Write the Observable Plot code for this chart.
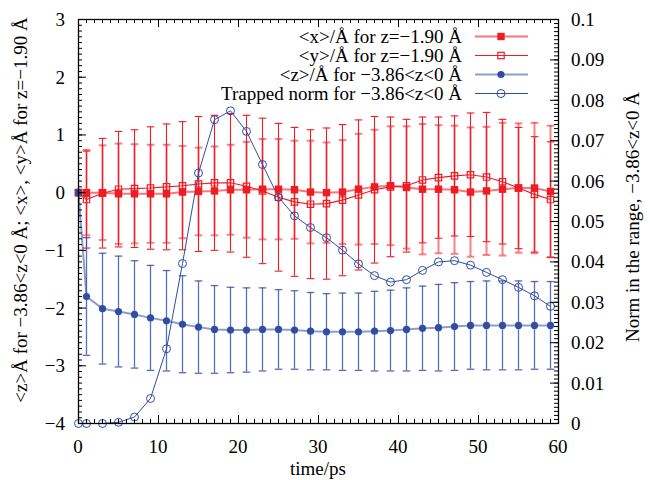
<!DOCTYPE html>
<html><head><meta charset="utf-8">
<script src="https://cdn.jsdelivr.net/npm/d3@7"></script>
<script src="https://cdn.jsdelivr.net/npm/@observablehq/plot@0.6"></script>
<style>
body{margin:0;background:#fff;}
#wrap{position:relative;width:650px;height:480px;font-family:'Liberation Serif','Times New Roman',serif;}
#legend{position:absolute;left:0;top:27px;width:528px;}
.row{display:flex;justify-content:flex-end;align-items:center;height:19px;font-size:19px;color:#000;white-space:pre;}
.row svg{display:block;}
.lab{position:absolute;white-space:pre;line-height:1;font-size:19px;color:#000;font-family:'Liberation Serif','Times New Roman',serif;}
</style></head><body><div id="wrap"><div id="legend"></div></div>
<script>
// ---- data ----
const time  = [0,1,3,5,7,9,11,13,15,17,19,21,23,25,27,29,31,33,35,37,39,41,43,45,47,49,51,53,55,57,59];
const xMean = [0,0,0,-0.02,-0.02,-0.02,-0.02,0.01,0.02,0.03,0.05,0.05,0.06,0.06,0.05,0.01,0,0.01,0.06,0.10,0.12,0.09,0.06,0.06,0.05,0.01,0.03,0.06,0.08,0.08,0.02];
const xErr  = [0,0.74,0.82,0.87,0.86,0.85,0.85,0.80,0.76,0.77,0.78,0.83,0.87,0.87,0.85,0.89,0.87,0.90,0.96,0.99,1.03,1.06,1.13,1.11,1.11,1.12,1.11,1.15,1.12,1.13,1.14];
const yMean = [0,-0.12,-0.01,0.06,0.07,0.08,0.10,0.12,0.15,0.17,0.17,0.11,0.03,-0.08,-0.16,-0.20,-0.19,-0.13,-0.04,0.05,0.10,0.12,0.22,0.26,0.29,0.31,0.27,0.19,0.08,-0.03,-0.12];
const yErr  = [0,0.84,0.95,1.00,1.02,1.06,1.09,1.11,1.17,1.17,1.20,1.23,1.26,1.28,1.29,1.29,1.31,1.31,1.30,1.27,1.21,1.15,1.09,1.05,1.04,1.07,1.12,1.08,1.05,1.00,1.00];
const zMean = [0,-1.80,-2.01,-2.06,-2.11,-2.17,-2.22,-2.28,-2.33,-2.37,-2.38,-2.38,-2.37,-2.37,-2.38,-2.40,-2.41,-2.41,-2.41,-2.40,-2.39,-2.37,-2.35,-2.34,-2.32,-2.30,-2.30,-2.30,-2.30,-2.30,-2.30];
const zErr  = [0,1.02,0.96,0.96,0.93,0.91,0.87,0.84,0.80,0.76,0.74,0.73,0.72,0.69,0.68,0.67,0.66,0.67,0.67,0.69,0.70,0.72,0.73,0.75,0.76,0.76,0.77,0.77,0.77,0.76,0.76];
const norm  = [0,0,0,0.0003,0.0016,0.0062,0.0185,0.0396,0.0620,0.0752,0.0774,0.0723,0.0641,0.0560,0.0514,0.0485,0.0460,0.0429,0.0395,0.0366,0.0350,0.0356,0.0379,0.0400,0.0403,0.0392,0.0374,0.0356,0.0337,0.0316,0.0290];

const xTicks = [0,10,20,30,40,50,60];
const yTicks = [-4,-3,-2,-1,0,1,2,3];
const normTicks = [0,0.01,0.02,0.03,0.04,0.05,0.06,0.07,0.08,0.09,0.1];
const legendLabels = ["<x>/Å for z=−1.90 Å","<y>/Å for z=−1.90 Å","<z>/Å for −3.86<z<0 Å","Trapped norm for −3.86<z<0 Å"];
const yLabel = "<z>Å for −3.86<z<0 Å; <x>, <y>Å for z=−1.90 Å";
const y2Label = "Norm in the range, −3.86<z<0 Å";
const xLabel = "time/ps";

// ---- layout / style ----
const W = 650, H = 480, mL = 78, mR = 92, mT = 19, mB = 57;
const innerW = W - mL - mR, innerH = H - mT - mB;
const RED = "#ee1d24", BLUE = "#2f4ea3";
const FONT = "'Liberation Serif','Times New Roman',serif";
const yDomain = [-4, 3], normDomain = [0, 0.1];
const toY = n => yDomain[0] + (n - normDomain[0]) / (normDomain[1] - normDomain[0]) * (yDomain[1] - yDomain[0]);
const fmt = d => d < 0 ? "\u2212" + (-d) : String(d);

const rows = time.map((t, i) => ({t, x: xMean[i], ex: xErr[i], y: yMean[i], ey: yErr[i], z: zMean[i], ez: zErr[i], n: norm[i]}));
const bars = rows.filter(d => d.ex > 0);

const cap = {draw(ctx, size) { const w = Math.sqrt(size) / 2; ctx.moveTo(-w, 0); ctx.lineTo(w, 0); }};

const xMinor = d3.range(0, 61, 1);
const yMinor = d3.range(-40, 31).map(i => i / 10);
const nMinor = d3.range(0, 101).map(i => toY(i / 1000));

function errMarks(key, ekey, color, opts) {
  return [
    Plot.ruleX(bars, {x: "t", y1: d => d[key] - d[ekey], y2: d => d[key] + d[ekey], stroke: color, ...opts}),
    Plot.dot(bars, {x: "t", y: d => d[key] - d[ekey], symbol: cap, r: 4.3, fill: "none", stroke: color, ...opts}),
    Plot.dot(bars, {x: "t", y: d => d[key] + d[ekey], symbol: cap, r: 4.3, fill: "none", stroke: color, ...opts})
  ];
}

const chart = Plot.plot({
  width: W, height: H, marginLeft: mL, marginRight: mR, marginTop: mT, marginBottom: mB,
  style: {fontFamily: FONT, fontSize: "19px", color: "#000", background: "#fff", overflow: "visible"},
  x: {domain: [0, 60], axis: null},
  y: {domain: yDomain, axis: null},
  marks: [
    // error bars
    ...errMarks("x", "ex", RED, {strokeWidth: 2, strokeOpacity: 0.55}),
    ...errMarks("y", "ey", RED, {strokeWidth: 1.1}),
    ...errMarks("z", "ez", BLUE, {strokeWidth: 1.3, strokeOpacity: 0.8}),
    // lines
    Plot.line(rows, {x: "t", y: "x", stroke: RED, strokeWidth: 2, strokeOpacity: 0.6}),
    Plot.line(rows, {x: "t", y: "y", stroke: RED, strokeWidth: 1.1}),
    Plot.line(rows, {x: "t", y: "z", stroke: BLUE, strokeWidth: 2, strokeOpacity: 0.55}),
    Plot.line(rows, {x: "t", y: d => toY(d.n), stroke: BLUE, strokeWidth: 1}),
    // markers
    Plot.dot(rows, {x: "t", y: "x", symbol: "square", r: 4.2, fill: RED, stroke: "none"}),
    Plot.dot(rows, {x: "t", y: "y", symbol: "square", r: 3.6, fill: "none", stroke: RED, strokeWidth: 1.2}),
    Plot.dot(rows, {x: "t", y: "z", symbol: "circle", r: 3.6, fill: BLUE, stroke: "none"}),
    Plot.dot(rows, {x: "t", y: d => toY(d.n), symbol: "circle", r: 4, fill: "none", stroke: BLUE, strokeWidth: 1}),
    // ticks (pointing inward)
    Plot.tickX(xMinor, {x: d => d, insetTop: innerH - 4, stroke: "#000"}),
    Plot.tickX(xTicks, {x: d => d, insetTop: innerH - 8, stroke: "#000"}),
    Plot.tickX(xMinor, {x: d => d, insetBottom: innerH - 4, stroke: "#000"}),
    Plot.tickX(xTicks, {x: d => d, insetBottom: innerH - 8, stroke: "#000"}),
    Plot.tickY(yMinor, {y: d => d, insetRight: innerW - 4, stroke: "#000"}),
    Plot.tickY(yTicks, {y: d => d, insetRight: innerW - 8, stroke: "#000"}),
    Plot.tickY(nMinor, {y: d => d, insetLeft: innerW - 4, stroke: "#000"}),
    Plot.tickY(normTicks.map(toY), {y: d => d, insetLeft: innerW - 8, stroke: "#000"}),
    Plot.frame({stroke: "#000", strokeWidth: 1.3})
  ]
});
const wrap = document.getElementById("wrap");
wrap.insertBefore(chart, document.getElementById("legend"));

// ---- tick labels and axis titles, placed through Plot's own scales ----
const xs = chart.scale("x"), ys = chart.scale("y");
function lab(text, x, y, transform) {
  d3.select(wrap).append("div").attr("class", "lab")
    .style("left", x + "px").style("top", y + "px").style("transform", transform).text(text);
}
xTicks.forEach(t => lab(fmt(t), xs.apply(t), H - mB + 23, "translate(-50%,-50%)"));
yTicks.forEach(v => lab(fmt(v), mL - 13, ys.apply(v), "translate(-100%,-50%)"));
normTicks.forEach(n => lab(String(n), W - mR + 13, ys.apply(toY(n)), "translate(0,-50%)"));
lab(xLabel, mL + innerW / 2, H - mB + 45, "translate(-50%,-50%)");
lab(yLabel, mL - 58, mT + innerH / 2 - 11, "translate(-50%,-50%) rotate(-90deg)");
lab(y2Label, W - mR + 74, mT + innerH / 2 - 4, "translate(-50%,-50%) rotate(-90deg)");

// ---- legend (inside plot, top-right) ----
const legendStyles = [
  {line: {stroke: RED, w: 2, o: 0.6}, m: {type: "square", fill: RED, stroke: "none", s: 7.4}},
  {line: {stroke: RED, w: 1.1, o: 1}, m: {type: "square", fill: "none", stroke: RED, s: 6.4}},
  {line: {stroke: BLUE, w: 2, o: 0.55}, m: {type: "circle", fill: BLUE, stroke: "none", s: 3.6}},
  {line: {stroke: BLUE, w: 1, o: 1}, m: {type: "circle", fill: "none", stroke: BLUE, s: 4}}
];
const leg = d3.select("#legend");
legendLabels.forEach((lbl, i) => {
  const st = legendStyles[i];
  const row = leg.append("div").attr("class", "row");
  row.append("span").text(lbl);
  const svg = row.append("svg").attr("width", 66).attr("height", 19);
  svg.append("line").attr("x1", 13).attr("x2", 66).attr("y1", 9.5).attr("y2", 9.5)
    .attr("stroke", st.line.stroke).attr("stroke-width", st.line.w).attr("stroke-opacity", st.line.o);
  if (st.m.type === "square") {
    svg.append("rect").attr("x", 39 - st.m.s / 2).attr("y", 9.5 - st.m.s / 2).attr("width", st.m.s).attr("height", st.m.s)
      .attr("fill", st.m.fill).attr("stroke", st.m.stroke).attr("stroke-width", 1.2);
  } else {
    svg.append("circle").attr("cx", 39).attr("cy", 9.5).attr("r", st.m.s)
      .attr("fill", st.m.fill).attr("stroke", st.m.stroke).attr("stroke-width", 1);
  }
});
</script></body></html>
